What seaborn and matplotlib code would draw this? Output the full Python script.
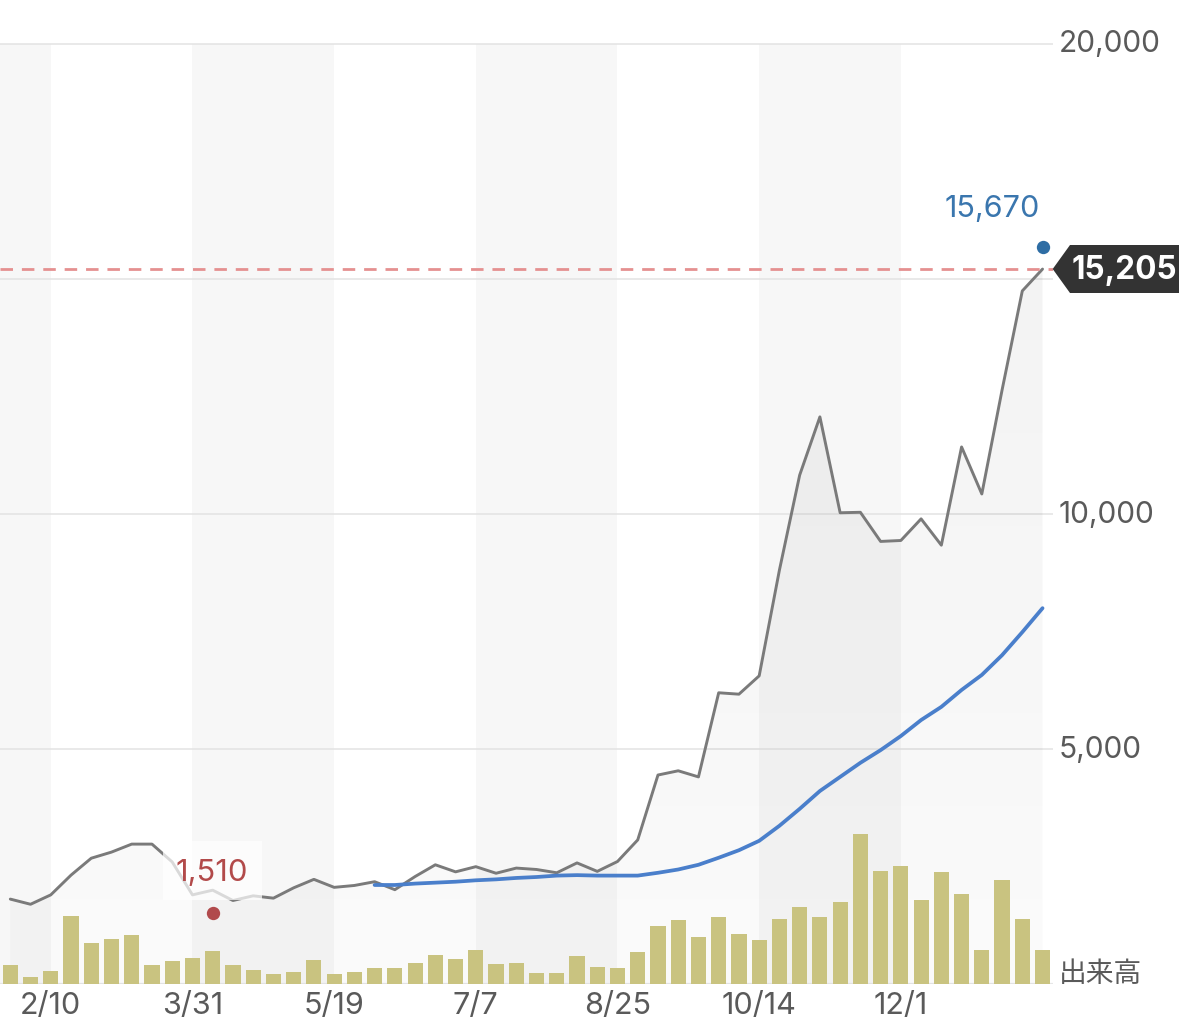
import numpy as np
import pandas as pd
import matplotlib
matplotlib.use("Agg")
import matplotlib.pyplot as plt
from matplotlib.patches import Polygon, Rectangle
from matplotlib.transforms import ScaledTranslation
import seaborn as sns

price = [1800, 1690, 1890, 2310, 2670, 2800, 2970, 2970, 2590, 1890,
         1990, 1770, 1870, 1820, 2040, 2220, 2050, 2090, 2170, 2000,
         2280, 2530, 2380, 2490, 2350, 2460, 2430, 2360, 2570, 2390,
         2600, 3060, 4440, 4530, 4400, 6190, 6160, 6550, 8800, 10820,
         12060, 10020, 10030, 9410, 9430, 9890, 9330, 11420, 10420, 12630,
         14740, 15205]
moving_avg = [2100, 2100, 2130, 2150, 2170, 2200, 2220, 2250, 2270, 2300,
              2310, 2300, 2300, 2300, 2360, 2430, 2530, 2680, 2840, 3040,
              3360, 3720, 4100, 4400, 4700, 4970, 5270, 5610, 5890, 6250,
              6570, 6990, 7480, 7990]
volume = [56, 20, 39, 203, 123, 133, 146, 57, 67, 78,
          97, 57, 41, 30, 34, 72, 29, 34, 47, 47,
          61, 87, 73, 100, 59, 63, 31, 33, 84, 49,
          47, 94, 174, 190, 141, 199, 149, 131, 195, 231,
          200, 245, 449, 339, 354, 251, 336, 269, 101, 310,
          193, 100]
date_ticks = [2, 9, 16, 23, 30, 37, 44]
date_labels = ["2/10", "3/31", "5/19", "7/7", "8/25", "10/14", "12/1"]
price_ticks = [0, 5000, 10000, 15000, 20000]
price_labels = ["", "5,000", "10,000", "", "20,000"]
low_idx, low_val = 10, 1510
high_idx, high_val = 51, 15670
last_val = price[-1]

W, H = 1179, 1035
PAD_L, BASE_Y, RIGHT_X = 10.3, 983.7, 1052.7
STEP, PX_PER_UNIT = 20.24, 0.047

sns.set_theme(style="white")
FONT = ["Inter", "DejaVu Sans"]
plt.rcParams["font.family"] = FONT
TXT = "#5a5a5a"

fig = plt.figure(figsize=(W / 100, H / 100), dpi=100, facecolor="white")
ax = fig.add_axes([0, 1 - BASE_Y / H, RIGHT_X / W, BASE_Y / H])
ax2 = ax.twinx()
ax.set_zorder(1)
ax2.set_zorder(2)
ax2.patch.set_visible(False)
ax.patch.set_facecolor("white")

def fig_px(x, y):
    return x / W, 1 - y / H

xmin, xmax = -PAD_L / STEP, (RIGHT_X - PAD_L) / STEP
ymax = BASE_Y / PX_PER_UNIT

df = pd.DataFrame({"i": np.arange(len(price)), "price": price, "volume": volume})
ma = pd.DataFrame({"i": np.arange(len(price) - len(moving_avg), len(price)), "ma": moving_avg})

# alternating bands
for a, b in [(xmin, date_ticks[0]), (date_ticks[1], date_ticks[2]),
             (date_ticks[3], date_ticks[4]), (date_ticks[5], date_ticks[6])]:
    ax.fill_between([a, b], 0, 20000, color="#f7f7f7", lw=0, zorder=0)

# horizontal grid
for v in price_ticks[1:]:
    ax.axhline(v, color="#e3e3e3", lw=1.1, zorder=1)
ax.axhline(0, color="#e6e6e6", lw=1.6, zorder=1)

# gradient area under the price line
alpha = np.linspace(0.05, 0.02, 256)
rgba = np.zeros((256, 1, 4))
rgba[:, 0, 3] = alpha
im = ax.imshow(rgba, extent=[0, len(price) - 1, 0, last_val], aspect="auto",
               origin="upper", zorder=1.5, interpolation="bilinear")
poly = ax.fill_between(df["i"], 0, df["price"], color="none", lw=0)
im.set_clip_path(poly.get_paths()[0], transform=ax.transData)

sns.lineplot(data=df, x="i", y="price", ax=ax, color="#7a7a7a", lw=2.1,
             errorbar=None, zorder=3)
sns.lineplot(data=ma, x="i", y="ma", ax=ax, color="#4a7fcb", lw=2.7,
             errorbar=None, zorder=4)
ax.axhline(last_val, color="#e59090", lw=2.0, dashes=(4.5, 3.2), zorder=3.5)

# volume bars
sns.barplot(data=df, x="i", y="volume", ax=ax2, native_scale=True, width=0.75,
            color="#c9c380", saturation=1, lw=0, errorbar=None)
ax2.set_ylim(0, BASE_Y * 3)
ax2.set_xlabel("")
ax2.set_ylabel("")
ax2.set_yticks([])
ax2.grid(False)
for s in ax2.spines.values():
    s.set_visible(False)

# low marker and label
fig.add_artist(Rectangle(fig_px(163, 900), 99 / W, 59 / H, transform=fig.transFigure,
                         fc="white", alpha=0.72, lw=0, zorder=5))
fig.text(*fig_px(212, 873.5), f"{low_val:,}", color="#b24a4a", fontsize=22.3,
         ha="center", va="center", zorder=6)
sns.scatterplot(x=[low_idx], y=[low_val], ax=ax, s=92, color="#b14a4c", lw=0, zorder=6)
sns.scatterplot(x=[high_idx], y=[high_val], ax=ax, s=92, color="#2e6da4", lw=0,
                zorder=6, clip_on=False)
fig.text(*fig_px(1039.5, 209), f"{high_val:,}", color="#3a76ae", fontsize=22,
         ha="right", va="center", zorder=6)

# last-price tag
tag = [(1052.7, 269), (1070, 245), (1179, 245), (1179, 293), (1070, 293)]
fig.add_artist(Polygon([fig_px(*p) for p in tag], closed=True, transform=fig.transFigure,
                       fc="#333333", lw=0, zorder=5))
fig.text(*fig_px(1124, 271), f"{last_val:,}", color="white", fontsize=22.7,
         fontweight="bold", ha="center", va="center", zorder=6)

# axes
ax.set_xlim(xmin, xmax)
ax.set_ylim(0, ymax)
ax.set_xlabel("")
ax.set_ylabel("")
ax.grid(False)
ax.set_xticks(date_ticks)
ax.set_xticklabels(date_labels, fontsize=22, color=TXT)
ax.yaxis.tick_right()
ax.set_yticks(price_ticks)
ax.set_yticklabels(price_labels, fontsize=21.5, color=TXT)
ax.tick_params(axis="both", length=0)
ax.tick_params(axis="x", pad=6)
ax.tick_params(axis="y", pad=4.5)
for lab in ax.get_yticklabels():
    shift = 3 if lab.get_text() == "20,000" else 1.5
    lab.set_transform(lab.get_transform() + ScaledTranslation(0, shift / 100, fig.dpi_scale_trans))
for s in ax.spines.values():
    s.set_visible(False)

fig.text(*fig_px(1059, 974), "出来高", fontsize=20, color=TXT, ha="left", va="center",
         family=["Noto Sans CJK JP", "DejaVu Sans"])

fig.savefig("out.png", dpi=100)
